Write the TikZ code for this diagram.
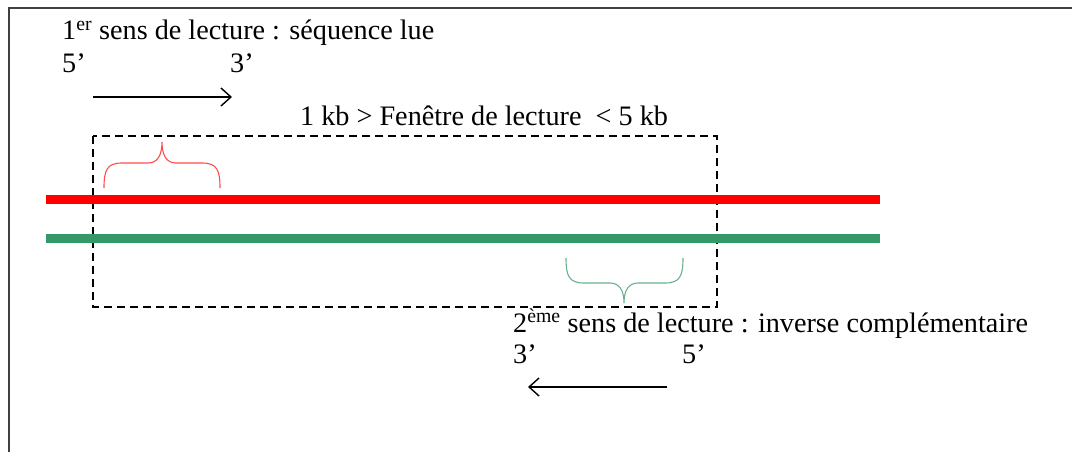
\documentclass[tikz,border=0pt]{standalone}
\usepackage{fontspec}
\setmainfont{Liberation Serif}
\usetikzlibrary{arrows.meta}
\definecolor{brinrouge}{RGB}{255,0,0}
\definecolor{brinvert}{RGB}{52,153,102}
\tikzset{
  lbl/.style={anchor=base west,inner sep=0pt,font=\fontsize{28.2}{33}\selectfont},
  brin/.style={line width=9pt},
  fleche/.style={line width=1.4pt,-{Straight Barb[length=10pt,width=18pt,line width=1.4pt]}},
  accolade/.style={line width=1.1pt},
  fenetre/.style={line width=1.3pt,dash pattern=on 8pt off 5pt}
}
\begin{document}
\begin{tikzpicture}[x=1pt,y=-1pt]
\useasboundingbox (0,0) rectangle (1072,452);
% Cadre ouvert : seuls les bords gauche et haut sont visibles.
\draw[line width=2pt,black!75] (9,452) -- (9,8) -- (1072,8);
% Premier sens de lecture.
\node[lbl] (sens1) at (62,40) {1\textsuperscript{er} sens de lecture : séquence lue};
\node[lbl] (cinq1) at (62,73) {5’};
\node[lbl] (trois1) at (230,73) {3’};
\coordinate (f1a) at (93,97);
\coordinate (f1b) at (232,97);
\draw[fleche] (f1a) -- (f1b);
% Fenêtre de lecture en pointillés.
\node[lbl] (taille) at (300,125) {1 kb > Fenêtre de lecture\ \ < 5 kb};
\draw[fenetre] (93,136) rectangle (717,307);
% Les deux brins.
\coordinate (r0) at (46,199);
\coordinate (r1) at (880,199);
\coordinate (v0) at (46,238);
\coordinate (v1) at (880,238);
\draw[brin,brinrouge] (r0) -- (r1);
\draw[brin,brinvert] (v0) -- (v1);
% Accolades : rouge au-dessus, verte en dessous.
\draw[accolade,brinrouge!70] (104,188) .. controls (104,170) and (107,163) .. (122,163)
      -- (148,163) .. controls (157,163) and (162,156) .. (162,142)
      .. controls (162,156) and (167,163) .. (176,163)
      -- (202,163) .. controls (217,163) and (220,170) .. (220,188);
\draw[accolade,brinvert!75] (566,258) .. controls (566,276) and (569,283) .. (584,283)
      -- (610,283) .. controls (619,283) and (624,290) .. (624,303)
      .. controls (624,290) and (629,283) .. (638,283)
      -- (665,283) .. controls (680,283) and (683,276) .. (683,258);
% Second sens de lecture.
\node[lbl] (sens2) at (513,332) {2\textsuperscript{ème} sens de lecture : inverse complémentaire};
\node[lbl] (trois2) at (513,363) {3’};
\node[lbl] (cinq2) at (682,363) {5’};
\coordinate (f2a) at (667,387);
\coordinate (f2b) at (528,387);
\draw[fleche] (f2a) -- (f2b);
\end{tikzpicture}
\end{document}
